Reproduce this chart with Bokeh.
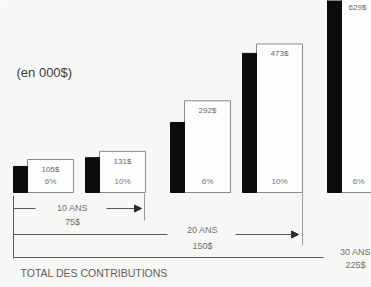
from bokeh.plotting import figure
from bokeh.models import Range1d, Arrow, NormalHead, ColumnDataSource
from bokeh.core.properties import value
from bokeh.embed import file_html
from bokeh.resources import INLINE

# ---- data ----
periods = ["10 ANS", "20 ANS", "30 ANS"]
contributions = ["75$", "150$", "225$"]
rates = ["6%", "10%", "6%", "10%", "6%"]
box_values = [105, 131, 292, 473, 629]      # total value (white boxes)
black_values = [83, 111, 223, 443, 620]     # black bars
unit_label = "(en 000$)"
footer = "TOTAL DES CONTRIBUTIONS"

# ---- layout constants (image pixel space) ----
W, H = 371, 287
BASE = 192          # baseline in image px
SCALE = 0.314       # px per $k
FONT = "Liberation Sans"
GREY = "#5a5a5a"
BG = "#f7f7f5"

p = figure(width=W, height=H, output_backend="svg", toolbar_location=None,
           x_range=Range1d(0, W),
           y_range=Range1d((BASE - H) / SCALE, BASE / SCALE),
           min_border=0, background_fill_color=BG, border_fill_color=BG)
p.extra_y_ranges = {"px": Range1d(H, 0)}
p.axis.visible = False
p.grid.visible = False
p.outline_line_color = None

# bar positions
lefts = []
for i in range(len(box_values)):
    g, m = divmod(i, 2)
    lefts.append(13 + 157 * g + 72 * m)
bw, boxw = 14, 46
black_l = lefts
black_r = [x + bw for x in lefts]
box_l = black_r
box_r = [x + boxw for x in box_l]
box_c = [(a + b) / 2 for a, b in zip(box_l, box_r)]

src = ColumnDataSource(dict(bl=black_l, br=black_r, xl=box_l, xr=box_r,
                            bv=black_values, v=box_values,
                            zero=[0] * len(box_values)))
p.quad(left="xl", right="xr", bottom="zero", top="v", source=src,
       fill_color="#fdfdfd", line_color="#8a8a8a", line_width=1)
p.quad(left="bl", right="br", bottom="zero", top="bv", source=src,
       fill_color="#0b0b0b", line_color="#0b0b0b")

# value labels (near box top, kept inside the window) and rate labels
lab_y = [min(v - 10 / SCALE, (BASE - 7) / SCALE) for v in box_values]
p.text(x=[min(c, 357) for c in box_c], y=lab_y, text=[f"{v}$" for v in box_values],
       text_align="center", text_baseline="middle", text_font=value(FONT),
       text_font_size="8px", text_color="#666666")
p.text(x=[min(c, 358) for c in box_c], y=[(BASE - 181) / SCALE] * len(rates), text=rates,
       text_align="center", text_baseline="middle", text_font=value(FONT),
       text_font_size="8px", text_color="#777777")

# unit label
p.text(x=[16], y=[72], text=[unit_label], y_range_name="px", text_align="left",
       text_baseline="middle", text_font=value(FONT), text_font_size="13px",
       text_color="#3c3c3c")

# brackets
LX = 13
line_ys = [208, 234, 257]
end_x = [box_r[1], box_r[3]]
label_x = [72, 202, 355]
p.segment(x0=[LX], y0=[195], x1=[LX], y1=[258], y_range_name="px",
          line_color=GREY, line_width=1)
# vertical end ticks
p.segment(x0=[end_x[0] - 1, end_x[1]], y0=[193, 193], x1=[end_x[0] - 1, end_x[1]],
          y1=[220, 245], y_range_name="px", line_color="#9a9a9a", line_width=1)
# left parts of horizontal lines
left_end = [35, 167, 323]
p.segment(x0=[LX] * 3, y0=line_ys, x1=left_end, y1=line_ys, y_range_name="px",
          line_color=GREY, line_width=1)
# arrows
arr_start = [106, 235]
for i in range(2):
    p.add_layout(Arrow(end=NormalHead(size=7, fill_color="#2a2a2a", line_color="#2a2a2a"),
                       x_start=arr_start[i], y_start=line_ys[i],
                       x_end=end_x[i] - 4, y_end=line_ys[i], y_range_name="px",
                       line_color=GREY, line_width=1))

per_y = [207, 229, 251]
con_y = [221, 245, 264]
p.text(x=label_x, y=per_y, text=periods, y_range_name="px", text_align="center",
       text_baseline="middle", text_font=value(FONT), text_font_size="9px",
       text_color="#707070")
p.text(x=label_x, y=con_y, text=contributions, y_range_name="px", text_align="center",
       text_baseline="middle", text_font=value(FONT), text_font_size="9px",
       text_color="#707070")

p.text(x=[20], y=[272], text=[footer], y_range_name="px", text_align="left",
       text_baseline="middle", text_font=value(FONT), text_font_size="10.5px",
       text_color="#606060")

open("out.html", "w").write(file_html(p, INLINE))
